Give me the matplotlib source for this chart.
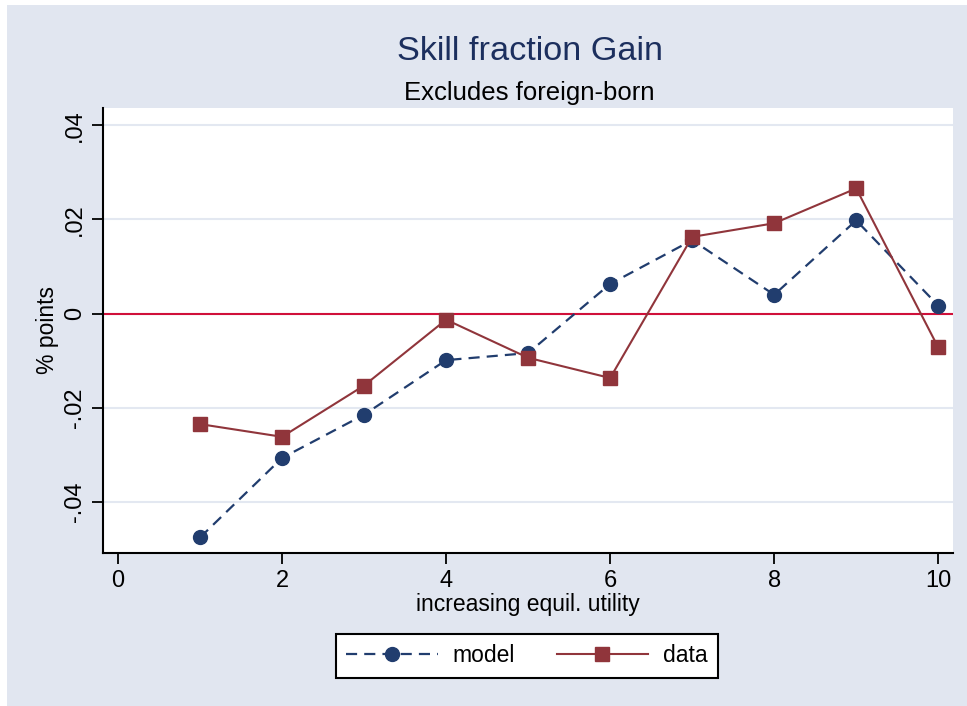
import matplotlib
matplotlib.use("Agg")
import matplotlib.pyplot as plt
from matplotlib.patches import Rectangle

plt.rcParams['font.family'] = ['Liberation Sans', 'DejaVu Sans']

x = [1, 2, 3, 4, 5, 6, 7, 8, 9, 10]
model = [-0.0476, -0.0307, -0.0215, -0.0099, -0.0084, 0.0063, 0.0156, 0.0040, 0.0198, 0.0017]
data = [-0.0235, -0.0262, -0.0153, -0.0013, -0.0094, -0.0137, 0.0163, 0.0192, 0.0266, -0.0072]
xticks = [0, 2, 4, 6, 8, 10]
yticks = [-0.04, -0.02, 0, 0.02, 0.04]
yticklabels = ['-.04', '-.02', '0', '.02', '.04']

BG = '#E1E6F0'
NAVY = '#213D6E'
MAROON = '#90353B'

fig = plt.figure(figsize=(9.67, 7.06), dpi=100)
fig.patch.set_facecolor('white')
fig.add_artist(Rectangle((7/967, 0), 1, 1 - 5/706, transform=fig.transFigure,
                         facecolor=BG, edgecolor='none', zorder=-10))

ax = fig.add_axes([103/967, 1 - 553/706, 850/967, 445/706])
ax.set_facecolor('white')

ax.plot(x, model, color=NAVY, lw=1.6, dashes=(5, 3.2), marker='o', ms=10,
        mfc=NAVY, mec=NAVY, label='model', zorder=3)
ax.plot(x, data, color=MAROON, lw=1.5, marker='s', ms=9.5, mfc=MAROON, mec=MAROON,
        label='data', zorder=4)
ax.axhline(0, color='#D0103A', lw=1.5, zorder=2)

ax.set_xlim(-0.183, 10.18)
ax.set_ylim(-0.0509, 0.0437)
ax.set_xticks(xticks)
ax.set_xticklabels([str(t) for t in xticks])
ax.set_yticks(yticks)
ax.set_yticklabels(yticklabels, rotation=90, va='center')
ax.grid(axis='y', color='#E3E8F1', lw=1.5, zorder=0)
ax.set_axisbelow(True)

for s in ['top', 'right']:
    ax.spines[s].set_visible(False)
for s in ['left', 'bottom']:
    ax.spines[s].set_linewidth(1.5)
    ax.spines[s].set_color('black')
ax.tick_params(direction='out', length=8, width=1.3, labelsize=17, pad=4)

ax.set_xlabel('increasing equil. utility', fontsize=16.5, labelpad=1)
ax.set_ylabel('% points', fontsize=16.5, labelpad=4)

fig.text(530/967, 1 - 52/706, 'Skill fraction Gain', fontsize=24.7, color='#1C2F5E',
         ha='center', va='center')
fig.text(529/967, 1 - 93/706, 'Excludes foreign-born', fontsize=18.5, color='black',
         ha='center', va='center')

leg = fig.legend(loc='center', bbox_to_anchor=(527/967, 1 - 656/706), ncol=2,
                 fontsize=16.5, frameon=True, fancybox=False, edgecolor='black',
                 facecolor='white', framealpha=1.0,
                 handlelength=4.0, columnspacing=1.8, handletextpad=0.65,
                 borderpad=0.45)
leg.get_frame().set_linewidth(1.5)

fig.savefig('out.png', dpi=100, facecolor=fig.get_facecolor())
